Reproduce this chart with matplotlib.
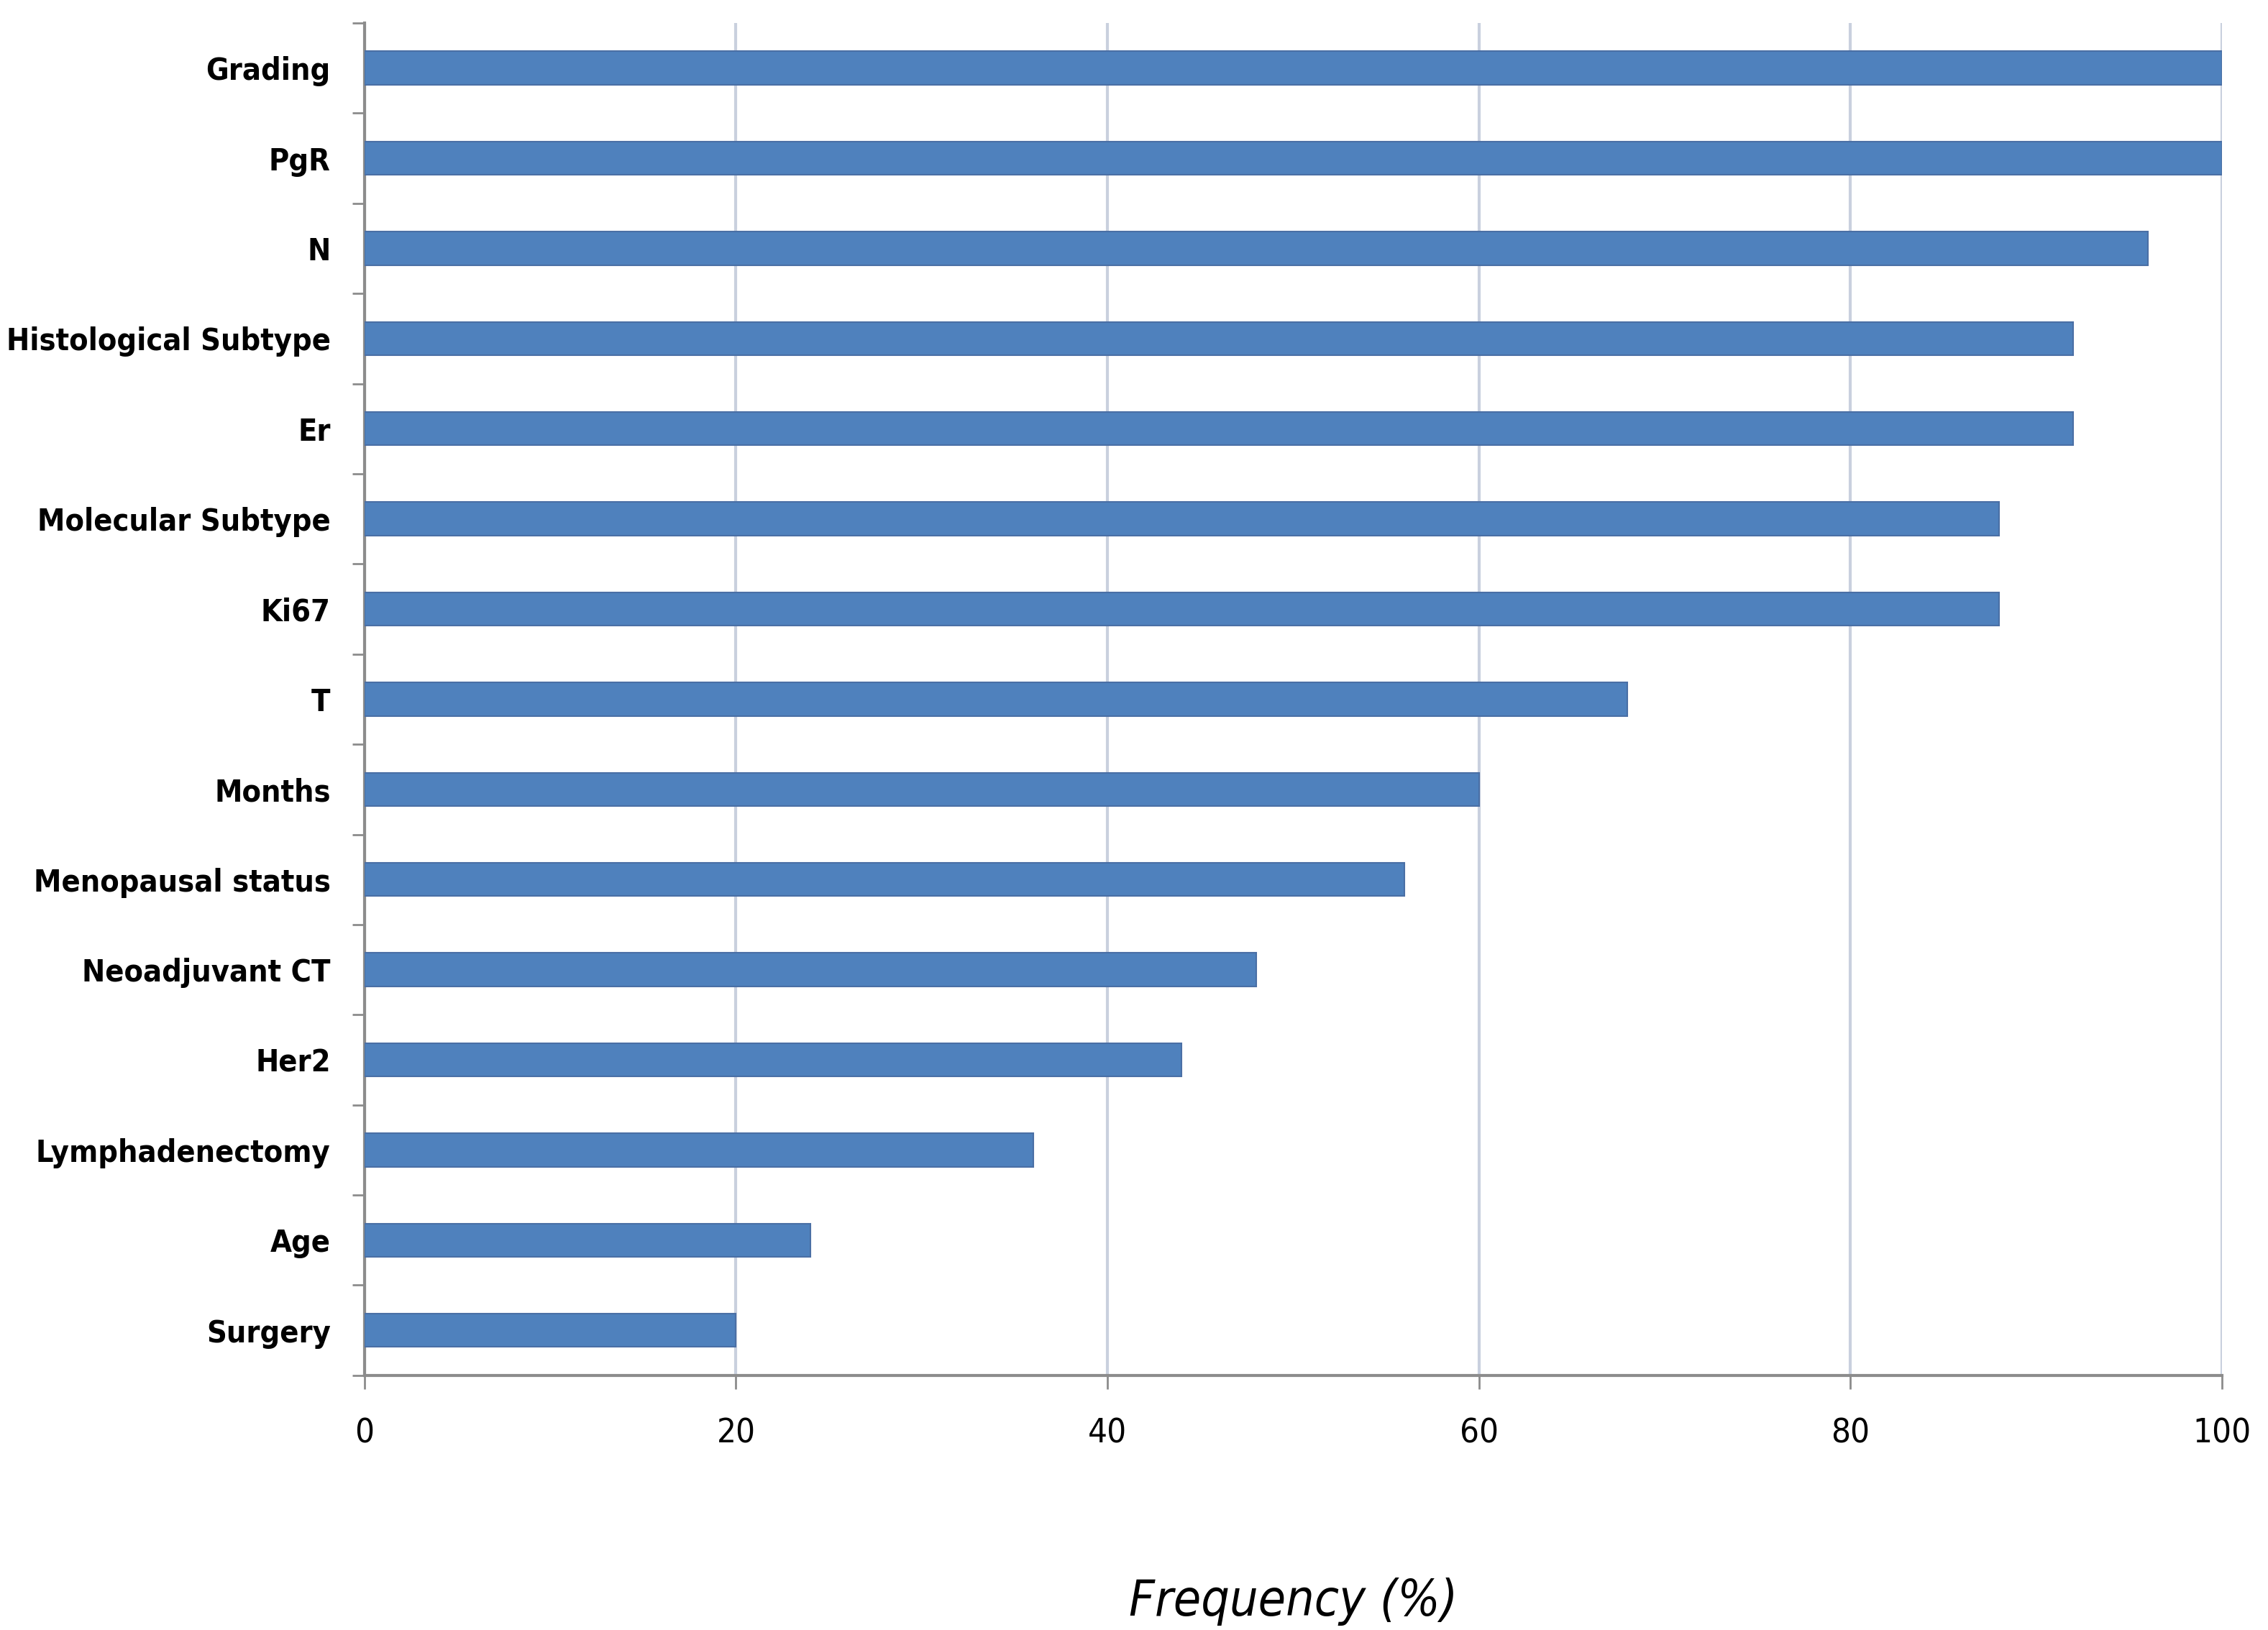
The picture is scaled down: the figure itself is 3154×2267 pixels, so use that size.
# Horizontal bar chart of variable frequency (%)
import matplotlib.pyplot as plt
from matplotlib import font_manager

categories = ['Grading', 'PgR', 'N', 'Histological Subtype', 'Er',
              'Molecular Subtype', 'Ki67', 'T', 'Months', 'Menopausal status',
              'Neoadjuvant CT', 'Her2', 'Lymphadenectomy', 'Age', 'Surgery']
values = [100, 100, 96, 92, 92, 88, 88, 68, 60, 56, 48, 44, 36, 24, 20]
xticks = [0, 20, 40, 60, 80, 100]

# look for a narrow/condensed face, the reference uses a narrow font
narrow = None
narrow_bold = None
narrow_it = None
for f in font_manager.fontManager.ttflist:
    cond = ('Narrow' in f.name or 'Condensed' in f.name
            or f.stretch in ('condensed', 'semi-condensed', 'extra-condensed'))
    if not cond:
        continue
    w = f.weight if isinstance(f.weight, int) else (700 if f.weight == 'bold' else 400)
    if f.style == 'normal':
        if w >= 600 and narrow_bold is None:
            narrow_bold = f.fname
        if w < 600 and narrow is None:
            narrow = f.fname
    elif w < 600 and narrow_it is None:
        narrow_it = f.fname

if narrow_bold:
    lab_font = font_manager.FontProperties(fname=narrow_bold, size=31)
else:
    lab_font = font_manager.FontProperties(family='DejaVu Sans', weight='bold', size=23)
if narrow:
    tick_font = font_manager.FontProperties(fname=narrow, size=34)
else:
    tick_font = font_manager.FontProperties(family='DejaVu Sans', size=28)
if narrow_it:
    xl_font = font_manager.FontProperties(fname=narrow_it, size=50)
else:
    xl_font = font_manager.FontProperties(family='DejaVu Sans', size=44, style='italic')

fig = plt.figure(figsize=(31.54, 22.67), dpi=100)
ax = fig.add_axes([0.1607, 0.1562, 0.8190, 0.8297])

pos = list(range(len(categories)))
ax.barh(pos, values, height=0.37, color='#4F81BD', edgecolor='#4A6FA5',
        linewidth=1.5, zorder=3)

ax.set_ylim(len(categories) - 0.5, -0.5)
ax.set_xlim(0, 100)
ax.set_xticks(xticks)
ax.set_xticklabels([str(v) for v in xticks], fontproperties=tick_font)
ax.set_yticks(pos)
ax.set_yticklabels(categories, fontproperties=lab_font)
ax.set_yticks([p + 0.5 for p in [-1] + pos], minor=True)
ax.tick_params(axis='y', which='major', length=0, pad=34)
ax.tick_params(axis='y', which='minor', length=12, width=2, color='#8C8C8C',
               direction='out')
ax.tick_params(axis='x', length=14, width=2, color='#8C8C8C',
               direction='out', pad=28)

ax.grid(axis='x', color='#C9D0DE', linewidth=3, zorder=0)
for s in ['top', 'right']:
    ax.spines[s].set_visible(False)
for s in ['left', 'bottom']:
    ax.spines[s].set_color('#8C8C8C')
    ax.spines[s].set_linewidth(3)

ax.set_xlabel('Frequency (%)', fontproperties=xl_font, labelpad=128)

fig.savefig('out.png', dpi=100)
